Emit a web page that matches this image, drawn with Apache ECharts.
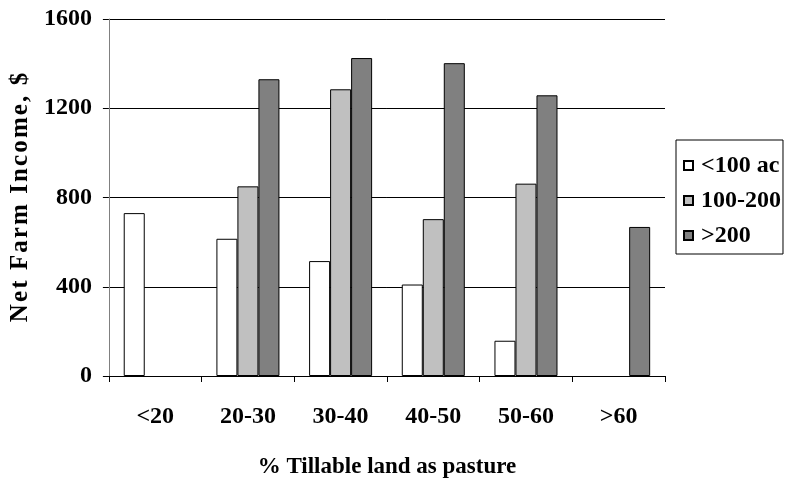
<!DOCTYPE html>
<html>
<head>
<meta charset="utf-8">
<script src="https://cdn.jsdelivr.net/npm/echarts@6/dist/echarts.min.js"></script>
<style>html,body{margin:0;padding:0;background:#fff}#c{width:785px;height:484px}</style>
</head>
<body>
<div id="c"></div>
<script>
const categories = ['<20', '20-30', '30-40', '40-50', '50-60', '>60'];
const seriesNames = ['<100 ac', '100-200', '>200'];
const small = [730, 615, 515, 410, 158, null];
const medium = [null, 850, 1285, 703, 862, null];
const large = [null, 1330, 1425, 1402, 1258, 668];
const yTicks = [0, 400, 800, 1200, 1600];
const yTitle = 'Net Farm Income, $';
const xTitle = '% Tillable land as pasture';

const font = '"Liberation Serif", "Times New Roman", serif';
const colors = ['#ffffff', '#c0c0c0', '#808080'];
const values = [small, medium, large];
const spaced = yTitle.split('').join('\u200A');

const chart = echarts.init(document.getElementById('c'), null, {renderer: 'canvas'});
chart.setOption({
  animation: false,
  backgroundColor: '#fff',
  grid: {left: 108, right: 120, top: 19, bottom: 106, containLabel: false},
  legend: {
    orient: 'vertical',
    left: 676, top: 140,
    padding: [13, 2, 6, 7],
    itemWidth: 9, itemHeight: 9,
    itemGap: 10,
    icon: 'rect',
    borderColor: '#000', borderWidth: 1,
    textStyle: {fontFamily: font, fontWeight: 'bold', fontSize: 24, color: '#000', padding: [0, 0, 0, 3], lineHeight: 25},
    data: seriesNames
  },
  xAxis: {
    type: 'category',
    data: categories,
    axisLine: {lineStyle: {color: '#000', width: 1}},
    axisTick: {show: true, length: 6, interval: 0, lineStyle: {color: '#000'}},
    axisLabel: {fontFamily: font, fontWeight: 'bold', fontSize: 24, color: '#000', margin: 29, interval: 0},
    name: xTitle,
    nameLocation: 'middle',
    nameGap: 80,
    nameTextStyle: {fontFamily: font, fontWeight: 'bold', fontSize: 23, color: '#000'}
  },
  yAxis: {
    type: 'value',
    min: yTicks[0], max: yTicks[yTicks.length - 1], interval: 400,
    axisLine: {show: true, lineStyle: {color: '#808080', width: 1}},
    axisTick: {show: true, length: 6, lineStyle: {color: '#000'}},
    axisLabel: {fontFamily: font, fontWeight: 'bold', fontSize: 24, color: '#000', margin: 17, formatter: v => String(v)},
    splitLine: {show: true, lineStyle: {color: '#000', width: 1}},
    name: spaced,
    nameLocation: 'middle',
    nameRotate: 90,
    nameGap: 72,
    nameTextStyle: {fontFamily: font, fontWeight: 'bold', fontSize: 25, color: '#000'}
  },
  series: seriesNames.map((n, i) => ({
    name: n,
    type: 'bar',
    data: values[i],
    barGap: '0%',
    barCategoryGap: '32%',
    itemStyle: {color: colors[i], borderColor: '#000', borderWidth: 1}
  }))
});
</script>
</body>
</html>
